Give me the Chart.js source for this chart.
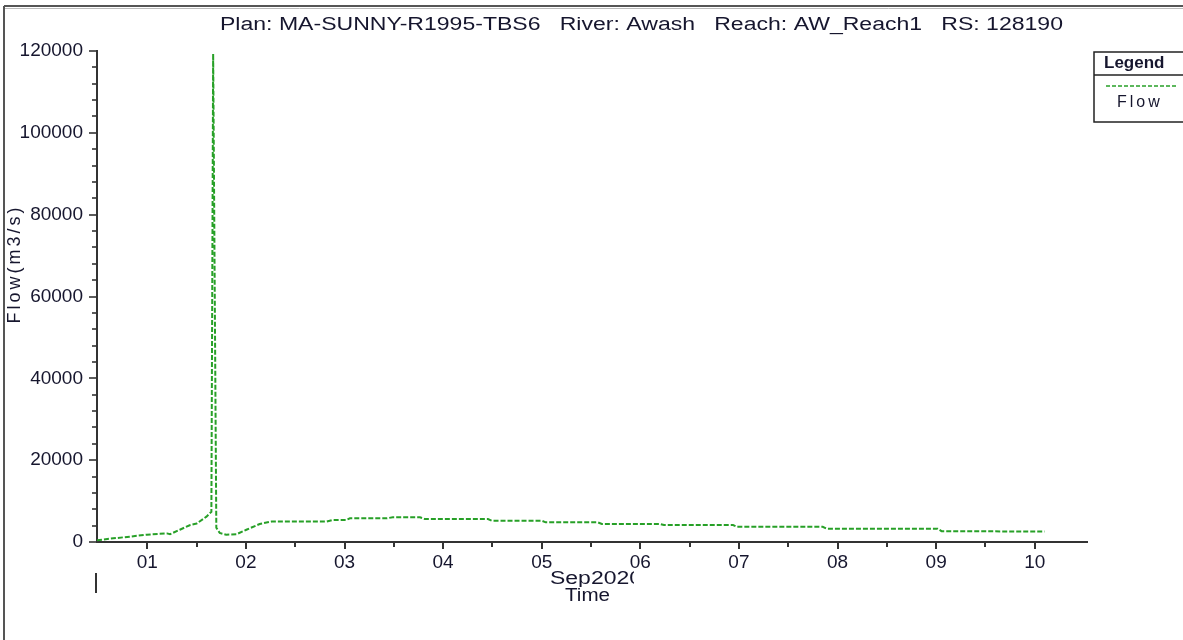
<!DOCTYPE html>
<html>
<head>
<meta charset="utf-8">
<title>Flow - Awash AW_Reach1</title>
<script src="https://cdn.jsdelivr.net/npm/chart.js@4.4.0/dist/chart.umd.min.js"></script>
<style>
    html, body { margin:0; padding:0; background:#fff; }
    #wrap { width:1183px; height:640px; position:relative; overflow:hidden; }
</style>
</head>
<body>
<div id="wrap"><canvas id="flowChart" width="1183" height="640"></canvas></div>
<script>

/* =========================
   DATA
   time = day of Sep 2020 (1.0 = 01 00:00)
========================= */

const flowDays = [
    0.49, 0.62, 0.82, 0.995, 1.20, 1.23, 1.33, 1.43, 1.50, 1.60, 1.65,
    1.668, 1.70, 1.735, 1.80, 1.905, 2.005, 2.14, 2.26, 2.82, 2.88, 3.02,
    3.055, 3.43, 3.49, 3.765, 3.815, 4.455, 4.495, 5.00, 5.04, 5.57, 5.61,
    6.20, 6.24, 6.94, 6.98, 7.85, 7.89, 9.015, 9.055, 10.10
];

const flowValues = [
    400, 800, 1300, 1800, 2100, 1900, 3000, 4100, 4500, 6200, 7400,
    119300, 3500, 2200, 1800, 1900, 3000, 4400, 5000, 5000, 5400, 5400,
    5800, 5800, 6050, 6050, 5600, 5600, 5200, 5200, 4800, 4800, 4400,
    4400, 4150, 4150, 3700, 3700, 3250, 3250, 2650, 2550
];

const xTickDays = [1, 2, 3, 4, 5, 6, 7, 8, 9, 10];
const yTickValues = [0, 20000, 40000, 60000, 80000, 100000, 120000];

const X_MIN = 0.49, X_MAX = 10.53;
const Y_MIN = 0, Y_MAX = 120000, Y_MINOR = 4000;

const TITLE = "Plan: MA-SUNNY-R1995-TBS6   River: Awash   Reach: AW_Reach1   RS: 128190";

const FONT = "'Liberation Sans', Arial, sans-serif";
const TEXT = "#16162e";
const AXIS = "#333333";
const GREEN = "#27a027";

/* =========================
   DECORATIONS
   (frame, tick marks, titles, legend box)
========================= */

function strokeLine(ctx, x1, y1, x2, y2){
    ctx.beginPath();
    ctx.moveTo(x1, y1);
    ctx.lineTo(x2, y2);
    ctx.stroke();
}

// draws left-aligned text stretched sideways to fill the given width
function fillWide(ctx, text, x, y, width){
    const w = ctx.measureText(text).width;
    ctx.save();
    ctx.translate(x, y);
    ctx.scale(width / w, 1);
    ctx.textAlign = "left";
    ctx.fillText(text, 0, 0);
    ctx.restore();
}

const hecPlot = {
    id: "hecPlot",
    afterDraw(chart){
        const {ctx, chartArea: a, scales: {x, y}} = chart;
        ctx.save();

        // window frame
        ctx.strokeStyle = "#555";
        ctx.lineWidth = 2;
        strokeLine(ctx, 4, 6, 1183, 6);
        strokeLine(ctx, 4, 6, 4, 640);
        ctx.strokeStyle = "#bbb";
        ctx.lineWidth = 1;
        strokeLine(ctx, 5, 8.5, 1183, 8.5);

        // tick marks
        ctx.strokeStyle = AXIS;
        ctx.lineWidth = 2;
        x.ticks.forEach(t=>{
            const px = Math.round(x.getPixelForValue(t.value));
            const len = Number.isInteger(t.value) ? 7 : 5;
            strokeLine(ctx, px, a.bottom, px, a.bottom + len);
        });
        ctx.lineWidth = 1.6;
        y.ticks.forEach(t=>{
            const py = Math.round(y.getPixelForValue(t.value));
            const len = t.value % 20000 === 0 ? 8 : 5;
            strokeLine(ctx, a.left, py, a.left - len, py);
        });

        // start-of-record marker under the axis
        ctx.lineWidth = 2;
        const x0 = Math.round(x.getPixelForValue(X_MIN)) - 1;
        strokeLine(ctx, x0, a.bottom + 31, x0, a.bottom + 51);

        ctx.fillStyle = TEXT;
        ctx.textBaseline = "middle";

        // title
        ctx.font = "18px " + FONT;
        fillWide(ctx, TITLE, 220, 25, 843);

        // axis titles
        ctx.save();
        ctx.beginPath();
        ctx.rect(540, a.bottom + 20, 94, 25);
        ctx.clip();
        fillWide(ctx, "Sep2020", 550, a.bottom + 37, 92);
        ctx.restore();
        fillWide(ctx, "Time", 565, a.bottom + 54, 45);

        ctx.save();
        ctx.translate(15, 264);
        ctx.rotate(-Math.PI / 2);
        ctx.textAlign = "center";
        ctx.letterSpacing = "3px";
        ctx.fillText("Flow(m3/s)", 0, 0);
        ctx.restore();

        // legend
        ctx.strokeStyle = "#222";
        ctx.lineWidth = 1.5;
        ctx.strokeRect(1094, 52, 120, 70);
        strokeLine(ctx, 1094, 75, 1183, 75);
        ctx.textAlign = "left";
        ctx.font = "bold 17px " + FONT;
        ctx.fillText("Legend", 1104, 63);
        ctx.font = "16px " + FONT;
        ctx.letterSpacing = "3px";
        ctx.fillText("Flow", 1117, 103);
        ctx.letterSpacing = "0px";
        ctx.strokeStyle = GREEN;
        ctx.lineWidth = 1.5;
        ctx.setLineDash([4, 2]);
        strokeLine(ctx, 1106, 86, 1178, 86);

        ctx.restore();
    }
};

/* =========================
   CHART
========================= */

const flowChart = new Chart(document.getElementById("flowChart"), {
    type: "line",
    data: {
        datasets: [{
            label: "Flow",
            data: flowDays.map((d, i)=>({x: d, y: flowValues[i]})),
            borderColor: GREEN,
            borderWidth: 2,
            borderDash: [5, 2],
            pointRadius: 0,
            tension: 0,
            fill: false
        }]
    },
    options: {
        responsive: false,
        animation: false,
        events: [],
        layout: { padding: { top: 51, right: 96, left: 0, bottom: 0 } },
        plugins: {
            legend: { display: false },
            title: { display: false },
            tooltip: { enabled: false }
        },
        scales: {
            x: {
                type: "linear",
                min: X_MIN,
                max: X_MAX,
                afterFit(s){ s.height = 640 - 542; },
                afterBuildTicks(s){
                    const ticks = [];
                    xTickDays.forEach(d=>{
                        ticks.push({value: d});
                        if (d + 0.5 < X_MAX - 0.1) ticks.push({value: d + 0.5});
                    });
                    s.ticks = ticks;
                },
                grid: { display: false, drawTicks: false },
                border: { display: true, color: AXIS, width: 2 },
                ticks: {
                    autoSkip: false,
                    maxRotation: 0,
                    padding: 9,
                    color: TEXT,
                    font: { family: FONT, size: 19 },
                    callback: v => Number.isInteger(v) ? String(v).padStart(2, "0") : ""
                }
            },
            y: {
                min: Y_MIN,
                max: Y_MAX,
                afterFit(s){ s.width = 97; },
                afterBuildTicks(s){
                    const ticks = [];
                    for (let v = Y_MIN; v <= Y_MAX; v += Y_MINOR) ticks.push({value: v});
                    s.ticks = ticks;
                },
                grid: { display: false, drawTicks: false },
                border: { display: true, color: AXIS, width: 2 },
                ticks: {
                    autoSkip: false,
                    padding: 14,
                    color: TEXT,
                    font: { family: FONT, size: 19 },
                    callback: v => yTickValues.includes(v) ? String(v) : ""
                }
            }
        }
    },
    plugins: [hecPlot]
});

</script>
</body>
</html>
